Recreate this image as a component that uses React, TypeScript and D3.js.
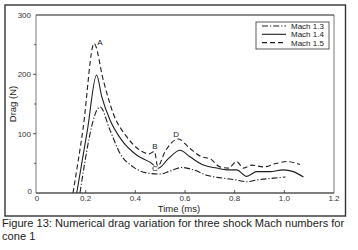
import React from "react";
import * as d3 from "d3";

const timeM13 = [0.177, 0.258, 0.298, 0.338, 0.391, 0.459, 0.5, 0.54, 0.587, 0.634, 0.687, 0.754, 0.808, 0.848, 0.889, 0.956, 1.005];
const dragM13 = [0, 145, 106, 67, 44, 33, 32, 37, 43, 39, 30, 25, 22, 19, 22, 25, 27];

const timeM14 = [0.164, 0.207, 0.244, 0.265, 0.298, 0.345, 0.405, 0.459, 0.493, 0.533, 0.58, 0.62, 0.674, 0.728, 0.768, 0.808, 0.848, 0.889, 0.942, 0.996, 1.036, 1.077];
const dragM14 = [0, 106, 199, 162, 123, 89, 64, 52, 42, 58, 72, 61, 47, 42, 39, 39, 28, 36, 36, 39, 36, 27];

const timeM15 = [0.149, 0.19, 0.234, 0.271, 0.311, 0.365, 0.419, 0.455, 0.477, 0.49, 0.52, 0.573, 0.62, 0.667, 0.7, 0.741, 0.775, 0.808, 0.835, 0.869, 0.915, 0.969, 1.01, 1.063];
const dragM15 = [0, 110, 252, 190, 134, 95, 72, 66, 70, 45, 70, 91, 75, 61, 58, 44, 42, 53, 42, 47, 44, 50, 53, 48];

const seriesNames = ["Mach 1.3", "Mach 1.4", "Mach 1.5"];
const xTicks = [0, 0.2, 0.4, 0.6, 0.8, 1.0, 1.2];
const xTickLabels = ["0", "0.2", "0.4", "0.6", "0.8", "1.0", "1.2"];
const yTicks = [0, 100, 200, 300];
const yMinorTicks = [50, 150, 250];
const pointLabels = ["A", "B", "C", "D"];
const pointLabelT = [0.257, 0.479, 0.479, 0.564];
const pointLabelV = [250, 74, 37, 94];

const FONT = "'Liberation Sans', Arial, sans-serif";
const INK = "#1e1e1e";

export default function App() {
  const x = d3.scaleLinear().domain([0, 1.2]).range([36, 334]);
  const y = d3.scaleLinear().domain([0, 300]).range([193, 15]);
  const line = d3
    .line<[number, number]>()
    .x((d) => x(d[0]))
    .y((d) => y(d[1]))
    .curve(d3.curveMonotoneX);

  const series = [
    { t: timeM13, v: dragM13, dash: "6,2,1.2,2", w: 1.1 },
    { t: timeM14, v: dragM14, dash: "none", w: 1.1 },
    { t: timeM15, v: dragM15, dash: "5,3", w: 1.1 },
  ];

  return (
    <svg
      width={358}
      height={250}
      style={{ position: "absolute", left: 0, top: 0, background: "#fff" }}
      fontFamily={FONT}
    >
      <rect x={0} y={0} width={358} height={250} fill="#fff" />
      {/* outer frame */}
      <rect x={5} y={5} width={340.5} height={211} fill="none" stroke="#333" strokeWidth={1.4} />
      {/* plot box */}
      <line x1={36} x2={334} y1={15} y2={15} stroke={INK} strokeWidth={1} />
      <line x1={334} x2={334} y1={15} y2={193} stroke="#555" strokeWidth={0.8} />
      <line x1={36} x2={36} y1={15} y2={193} stroke="#555" strokeWidth={0.8} />
      <line x1={36} x2={334} y1={193} y2={193} stroke="#555" strokeWidth={1.3} />

      {/* y ticks */}
      {yTicks.map((t) => (
        <g key={"y" + t}>
          {t !== 0 && t !== 300 && (
            <line x1={33} x2={36} y1={y(t)} y2={y(t)} stroke="#333" strokeWidth={0.8} />
          )}
          <text
            x={t === 0 ? 32 : 31}
            y={y(t) + (t === 0 ? 1 : 3)}
            fontSize={8}
            textAnchor="end"
            fill="#333"
          >
            {t}
          </text>
        </g>
      ))}
      {yMinorTicks.map((t) => (
        <line key={"ym" + t} x1={34} x2={36} y1={y(t)} y2={y(t)} stroke="#333" strokeWidth={0.8} />
      ))}

      {/* x ticks */}
      {xTicks.map((t, i) => (
        <g key={"x" + t}>
          {i > 0 && i < xTicks.length - 1 && (
            <line x1={x(t)} x2={x(t)} y1={193} y2={190} stroke="#333" strokeWidth={0.8} />
          )}
          <text
            x={i === 0 ? x(t) + 1 : x(t)}
            y={200.5}
            fontSize={8}
            textAnchor="middle"
            fill="#333"
          >
            {xTickLabels[i]}
          </text>
        </g>
      ))}

      {/* axis titles */}
      <text x={179} y={211.5} fontSize={9.5} textAnchor="middle" fill="#222">
        Time (ms)
      </text>
      <text
        transform={`translate(16, ${y(150)}) rotate(-90)`}
        fontSize={9.5}
        textAnchor="middle"
        fill="#222"
      >
        Drag  (N)
      </text>

      {/* curves */}
      {series.map((s, i) => (
        <path
          key={"s" + i}
          d={line(s.t.map((t, j) => [t, s.v[j]] as [number, number])) || ""}
          fill="none"
          stroke={INK}
          strokeWidth={s.w}
          strokeDasharray={s.dash}
        />
      ))}

      {/* point labels */}
      {pointLabels.map((l, i) => (
        <text
          key={l}
          x={x(pointLabelT[i])}
          y={y(pointLabelV[i])}
          fontSize={8}
          textAnchor="middle"
          fill="#222"
          stroke="#fff"
          strokeWidth={1.6}
          paintOrder="stroke"
        >
          {l}
        </text>
      ))}

      {/* legend */}
      <rect x={256} y={22} width={73} height={27} fill="#fff" stroke="#333" strokeWidth={0.8} />
      {seriesNames.map((n, i) => (
        <g key={n}>
          <line
            x1={262}
            x2={286}
            y1={26 + i * 8.3}
            y2={26 + i * 8.3}
            stroke={INK}
            strokeWidth={series[i].w}
            strokeDasharray={series[i].dash}
          />
          <text x={291} y={29 + i * 8.3} fontSize={8} fill="#222">
            {n}
          </text>
        </g>
      ))}

      {/* caption */}
      <text x={2} y={227} fontSize={11.1} fill="#222">
        Figure 13: Numerical drag variation for three shock Mach numbers for
      </text>
      <text x={2} y={240} fontSize={11.1} fill="#222">
        cone  1
      </text>
    </svg>
  );
}
